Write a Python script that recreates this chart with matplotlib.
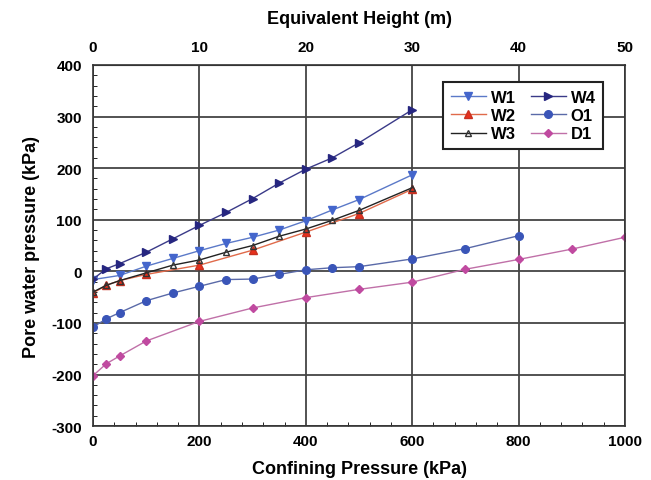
import numpy as np
import matplotlib
matplotlib.use('Agg')
import matplotlib.pyplot as plt
from matplotlib.ticker import MultipleLocator, FixedLocator

plt.rcParams['font.family'] = ['Liberation Sans', 'DejaVu Sans']
plt.rcParams['font.weight'] = 'bold'
plt.rcParams['axes.unicode_minus'] = False

# data
w1_x = [0, 50, 100, 150, 200, 250, 300, 350, 400, 450, 500, 600]
w1_y = [-16, -8, 10, 25, 40, 54, 66, 80, 98, 119, 139, 187]

w2_x = [0, 25, 50, 100, 200, 300, 400, 500, 600]
w2_y = [-42, -27, -18, -6, 12, 41, 76, 112, 159]

w3_x = [0, 25, 50, 100, 150, 200, 250, 300, 350, 400, 450, 500, 600]
w3_y = [-40, -27, -18, -3, 12, 22, 37, 50, 68, 82, 99, 118, 162]

w4_x = [0, 25, 50, 100, 150, 200, 250, 300, 350, 400, 450, 500, 600]
w4_y = [-15, 5, 15, 37, 63, 89, 114, 141, 171, 198, 220, 249, 313]

o1_x = [0, 25, 50, 100, 150, 200, 250, 300, 350, 400, 450, 500, 600, 700, 800]
o1_y = [-108, -92, -80, -57, -42, -29, -16, -15, -6, 3, 7, 9, 24, 44, 69]

d1_x = [0, 25, 50, 100, 200, 300, 400, 500, 600, 700, 800, 900, 1000]
d1_y = [-202, -179, -164, -135, -97, -71, -51, -35, -21, 4, 23, 43, 66]

height_ticks = [0, 10, 20, 30, 40, 50]

fig = plt.figure(figsize=(6.51, 4.81), dpi=100)
ax = fig.add_axes([0.143, 0.112, 0.817, 0.751])

ax.plot(w1_x, w1_y, '-v', color='#5b79c8', lw=1, ms=5.5, mfc='#4466cc', mec='#4466cc', label='W1')
ax.plot(w2_x, w2_y, '-^', color='#e06a4a', lw=1, ms=5.5, mfc='#e8301c', mec='#c83020', label='W2')
ax.plot(w3_x, w3_y, '-^', color='#222222', lw=1, ms=5, mfc='none', mec='#333333', label='W3')
ax.plot(w4_x, w4_y, '->', color='#3a3a88', lw=1, ms=5.5, mfc='#262680', mec='#262680', label='W4')
ax.plot(o1_x, o1_y, '-o', color='#5a6aa8', lw=1, ms=5.5, mfc='#3a55b8', mec='#3a55b8', label='O1')
ax.plot(d1_x, d1_y, '-D', color='#c070a8', lw=1, ms=4.2, mfc='#c04aa0', mec='#c04aa0', label='D1')

ax.set_xlim(0, 1000)
ax.set_ylim(-300, 400)
ax.xaxis.set_major_locator(MultipleLocator(200))
ax.xaxis.set_minor_locator(MultipleLocator(40))
ax.yaxis.set_major_locator(MultipleLocator(100))
ax.yaxis.set_minor_locator(MultipleLocator(20))
ax.grid(True, which='major', color='#444444', lw=1.3)
ax.tick_params(which='both', direction='in', labelsize=11)
ax.tick_params(which='minor', length=3)
ax.tick_params(which='major', length=0)
ax.tick_params(axis='x', pad=6)
ax.tick_params(axis='y', pad=8)
for s in ax.spines.values():
    s.set_color('#333333')
    s.set_linewidth(1.2)

ax.set_xlabel('Confining Pressure (kPa)', fontsize=13, fontweight='bold', labelpad=8)
ax.set_ylabel('Pore water pressure (kPa)', fontsize=13, fontweight='bold', labelpad=8)

top = ax.secondary_xaxis('top', functions=(lambda x: x / 20, lambda h: h * 20))
top.xaxis.set_major_locator(FixedLocator(height_ticks))
top.tick_params(direction='in', length=0, labelsize=11, pad=8)
top.set_xlabel('Equivalent Height (m)', fontsize=13, fontweight='bold', labelpad=12)

leg = ax.legend(ncol=2, loc='upper right', bbox_to_anchor=(0.975, 0.975),
                fontsize=12, frameon=True, fancybox=False, framealpha=1,
                edgecolor='#222222', handlelength=2.1, columnspacing=0.9,
                labelspacing=0.2, handletextpad=0.3, borderpad=0.45)
leg.get_frame().set_linewidth(1.5)

fig.savefig('out.png', dpi=100)
